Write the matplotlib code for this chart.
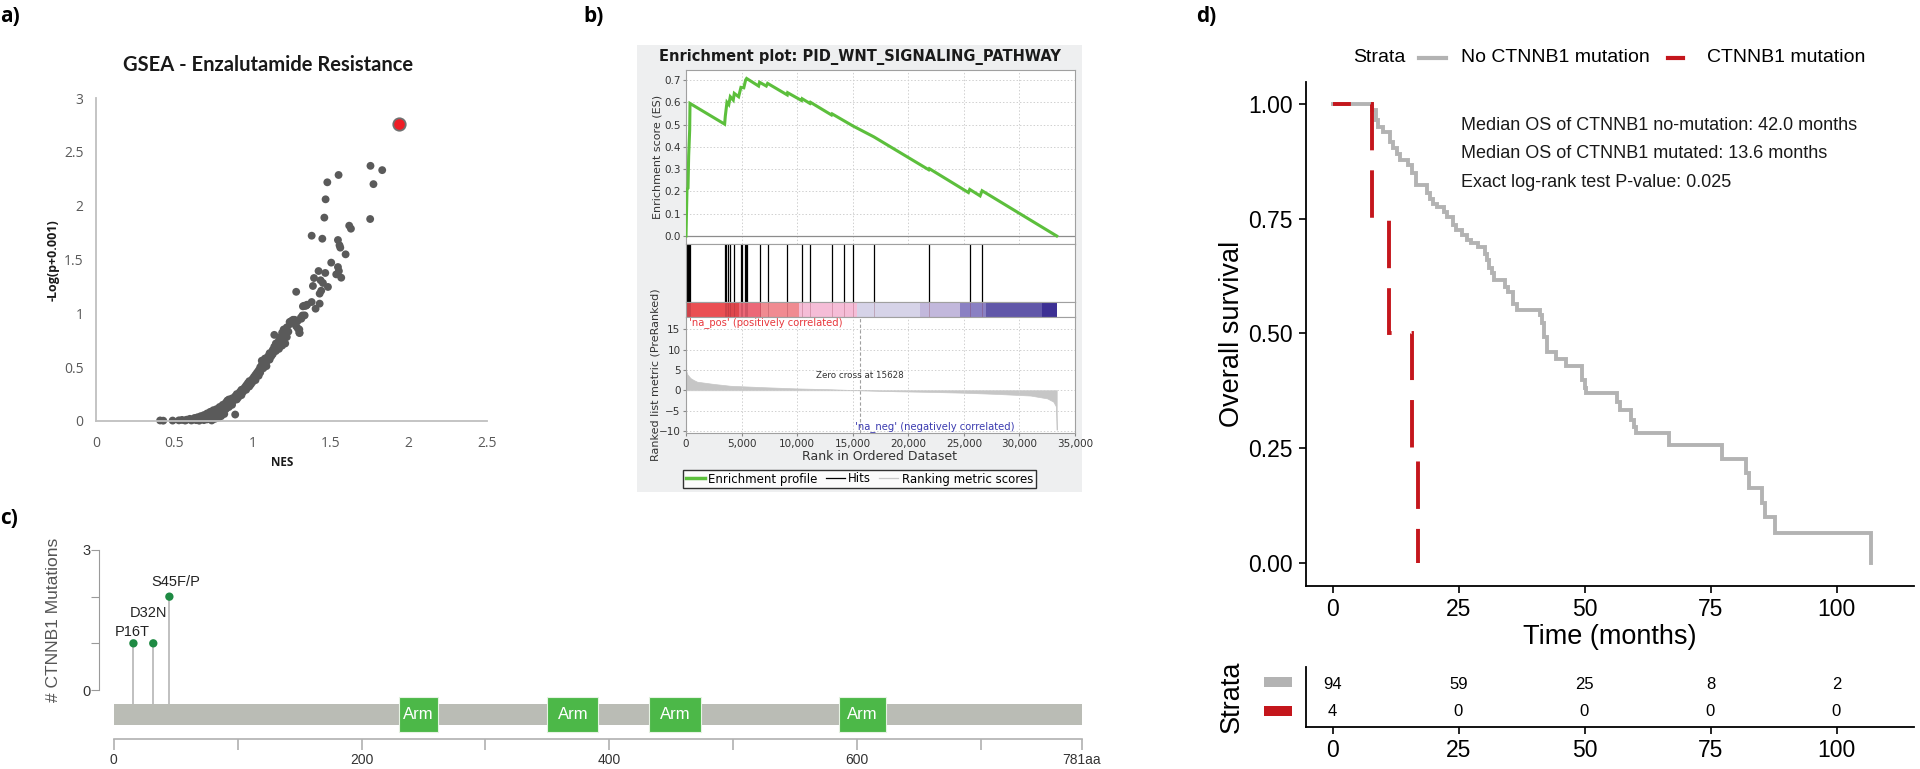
import matplotlib
matplotlib.use('Agg')
import matplotlib.pyplot as plt
from matplotlib.patches import Rectangle
from matplotlib.lines import Line2D

plt.rcParams['font.family'] = ['Liberation Sans', 'DejaVu Sans']

# ---------------- data ----------------
# panel a: GSEA scatter (NES vs -log(p+0.001))
nes = [0.41, 0.43, 0.49, 0.53, 0.55, 0.57, 0.58, 0.60, 0.61, 0.62, 0.63, 0.64, 0.65, 0.66, 0.66,
       0.67, 0.68, 0.69, 0.69, 0.70, 0.71, 0.71, 0.72, 0.73, 0.73, 0.74, 0.74, 0.75, 0.75, 0.76,
       0.76, 0.77, 0.77, 0.78, 0.78, 0.79, 0.79, 0.80, 0.80, 0.81, 0.81, 0.82, 0.82, 0.83, 0.83,
       0.84, 0.84, 0.85, 0.85, 0.86, 0.87, 0.87, 0.88, 0.89, 0.89, 0.90, 0.90, 0.91, 0.92, 0.93,
       0.93, 0.94, 0.95, 0.96, 0.96, 0.97, 0.98, 0.98, 0.99, 1.00, 1.00, 1.01, 1.02, 1.02, 1.03,
       1.04, 1.04, 1.05, 1.05, 1.06, 1.06, 1.07, 1.07, 1.08, 1.09, 1.09, 1.10, 1.11, 1.11, 1.12,
       1.13, 1.13, 1.14, 1.14, 1.15, 1.15, 1.16, 1.17, 1.17, 1.18, 1.18, 1.19, 1.19, 1.20, 1.20,
       1.21, 1.21, 1.22, 1.22, 1.23, 1.24, 1.25, 1.26, 1.27, 1.28, 1.29, 1.30, 1.30, 1.31, 1.32,
       1.33, 1.34, 1.35, 1.28,
       1.379, 1.447, 1.46, 1.468, 1.479, 1.551, 1.753, 1.755, 1.774, 1.83, 1.619, 1.63, 1.547,
       1.557, 1.562, 1.596, 1.504, 1.547, 1.553, 1.536, 1.568, 1.466, 1.423, 1.394, 1.436, 1.451,
       1.483, 1.387, 1.43, 1.44, 1.43, 1.379, 1.404, 1.323, 1.345, 1.334, 1.313, 1.291, 1.302,
       1.26, 1.238]
logp = [0.005, 0.003, 0.004, 0.006, 0.01, 0.004, 0.012, 0.02, 0.005, 0.015, 0.028, 0.008, 0.035, 0.018, 0.003,
        0.045, 0.025, 0.008, 0.055, 0.035, 0.07, 0.015, 0.05, 0.085, 0.03, 0.06, 0.005, 0.10, 0.04, 0.075,
        0.02, 0.11, 0.055, 0.09, 0.03, 0.13, 0.07, 0.115, 0.045, 0.15, 0.09, 0.13, 0.065, 0.17, 0.11,
        0.15, 0.19, 0.13, 0.20, 0.17, 0.21, 0.15, 0.19, 0.06, 0.23, 0.20, 0.25, 0.22, 0.27, 0.24,
        0.29, 0.27, 0.31, 0.29, 0.33, 0.35, 0.32, 0.37, 0.34, 0.39, 0.36, 0.41, 0.38, 0.43, 0.45,
        0.42, 0.47, 0.50, 0.45, 0.56, 0.52, 0.49, 0.54, 0.58, 0.55, 0.51, 0.60, 0.57, 0.63, 0.60,
        0.66, 0.62, 0.80, 0.69, 0.65, 0.72, 0.70, 0.75, 0.67, 0.73, 0.78, 0.70, 0.82, 0.76, 0.85,
        0.80, 0.72, 0.87, 0.78, 0.83, 0.90, 0.93, 0.94, 0.94, 0.88, 0.93, 0.85, 0.82, 0.96, 0.98,
        1.07, 1.07, 1.08, 1.20,
        1.721, 1.693, 1.889, 2.059, 2.217, 2.285, 1.876, 2.37, 2.20, 2.33, 1.814, 1.786, 1.681,
        1.632, 1.61, 1.548, 1.471, 1.43, 1.393, 1.362, 1.331, 1.375, 1.393, 1.328, 1.307, 1.282,
        1.245, 1.254, 1.183, 1.21, 1.09, 1.105, 1.043, 1.065, 1.074, 0.981, 0.95, 0.858, 0.817,
        0.935, 0.92]
top_nes = [1.936]
top_logp = [2.76]
a_xticks = [0, 0.5, 1, 1.5, 2, 2.5]
a_xticklabels = ['0', '0.5', '1', '1.5', '2', '2.5']
a_yticks = [0, 0.5, 1, 1.5, 2, 2.5, 3]
a_yticklabels = ['0', '0.5', '1', '1.5', '2', '2.5', '3']

# panel b: GSEA enrichment plot
es_rank = [0, 90, 180, 240, 330, 360, 3476, 3536, 3686, 3850, 3985, 4250, 4345, 4734, 4944, 5200,
           5364, 5454, 6532, 6622, 7222, 7342, 9110, 9150, 10398, 10450, 11147, 11200, 13095,
           13150, 15013, 16900, 21845, 21900, 25411, 25531, 26460, 26640, 33352]
es_val = [0.0, 0.21, 0.215, 0.36, 0.475, 0.595, 0.502, 0.538, 0.60, 0.59, 0.625, 0.61, 0.64,
          0.625, 0.667, 0.665, 0.70, 0.707, 0.673, 0.69, 0.673, 0.685, 0.633, 0.643, 0.608,
          0.616, 0.595, 0.60, 0.543, 0.548, 0.494, 0.445, 0.297, 0.302, 0.195, 0.209, 0.18,
          0.203, 0.0]
hit_ranks = [90, 180, 270, 330, 3536, 3626, 3746, 3985, 4345, 4944, 5034, 5274, 5364, 5454,
             6622, 7342, 9110, 10398, 11147, 13095, 14174, 15013, 16900, 21845, 25531, 26640]
metric_rank = [0, 100, 400, 700, 1000, 2500, 4000, 7000, 10000, 13000, 15628, 19000, 22000,
               25000, 28000, 31000, 32500, 33050, 33290, 33352]
metric_val = [5.0, 4.0, 3.0, 2.5, 2.1, 1.55, 1.1, 0.75, 0.45, 0.25, 0.0, -0.25, -0.4, -0.6,
              -0.9, -1.3, -2.0, -2.8, -4.0, -9.7]
band_edges = [0, 3700, 4800, 6740, 10130, 15370, 21070, 24660, 27000, 32070, 33352]
band_colors = ['#ea4f53', '#df474c', '#ec6878', '#f08b91', '#f5bdd7', '#d6d3e8', '#c2b8dc',
               '#8a80c3', '#6157a9', '#3d3094']
zero_cross = 15628
b_xticks = [0, 5000, 10000, 15000, 20000, 25000, 30000, 35000]
b_xticklabels = ['0', '5,000', '10,000', '15,000', '20,000', '25,000', '30,000', '35,000']

# panel c: CTNNB1 lollipop
mut_pos = [16, 32, 45]
mut_count = [1, 1, 2]
mut_label = ['P16T', 'D32N', 'S45F/P']
protein_len = 781
arm_start = [230, 350, 432, 585]
arm_end = [262, 391, 474, 623]

# panel d: Kaplan-Meier
nomut_t = [0, 7.9, 8.6, 9.1, 10.0, 11.5, 12.1, 12.7, 13.4, 15.0, 15.7, 16.6, 18.7, 19.3, 20.0,
           20.7, 22.1, 22.7, 24.0, 24.6, 25.6, 26.6, 27.5, 28.8, 30.2, 30.7, 31.1, 31.6, 32.0,
           34.3, 34.8, 35.9, 36.6, 41.1, 41.6, 42.0, 42.5, 44.3, 46.3, 49.5, 50.1, 50.2, 56.4,
           57.1, 59.3, 59.8, 60.3, 66.8, 77.3, 82.1, 82.6, 85.3, 85.8, 87.8, 106.9]
nomut_s = [1.0, 0.987, 0.965, 0.950, 0.939, 0.918, 0.905, 0.892, 0.879, 0.867, 0.849, 0.823,
           0.805, 0.794, 0.783, 0.776, 0.765, 0.754, 0.736, 0.725, 0.714, 0.703, 0.696, 0.689,
           0.674, 0.660, 0.642, 0.631, 0.616, 0.602, 0.591, 0.565, 0.551, 0.540, 0.522, 0.493,
           0.460, 0.445, 0.429, 0.398, 0.380, 0.369, 0.351, 0.333, 0.311, 0.296, 0.282, 0.257,
           0.225, 0.195, 0.162, 0.130, 0.100, 0.064, 0.0]
mut_t = [0, 7.8, 11.3, 15.8, 16.9]
mut_s = [1.0, 0.75, 0.5, 0.25, 0.0]
risk_times = [0, 25, 50, 75, 100]
risk_nomut = [94, 59, 25, 8, 2]
risk_mut = [4, 0, 0, 0, 0]
d_yticks = [0, 0.25, 0.5, 0.75, 1.0]
d_yticklabels = ['0.00', '0.25', '0.50', '0.75', '1.00']
annot_lines = ['Median OS of CTNNB1 no-mutation: 42.0 months',
               'Median OS of CTNNB1 mutated: 13.6 months',
               'Exact log-rank test P-value: 0.025']

# ---------------- figure ----------------
W, H = 1920, 769
fig = plt.figure(figsize=(W / 100, H / 100), dpi=100)


def pax(l, t, r, b):
    return fig.add_axes([l / W, 1 - b / H, (r - l) / W, (b - t) / H])


def ftext(x, y, s, **kw):
    return fig.text(x / W, 1 - y / H, s, **kw)


def frect(l, t, r, b, **kw):
    fig.patches.append(Rectangle((l / W, 1 - b / H), (r - l) / W, (b - t) / H,
                                 transform=fig.transFigure, figure=fig, **kw))


# panel labels
lab_kw = dict(fontsize=15, fontweight='bold', family='Open Sans', va='center', ha='left')
ftext(0, 17, 'a)', **lab_kw)
ftext(583, 17, 'b)', **lab_kw)
ftext(0, 519, 'c)', **lab_kw)
ftext(1196, 17, 'd)', **lab_kw)

# ---------- panel a ----------
axA = pax(96, 98, 487, 421)
axA.scatter(nes, logp, s=32, color='#5a5a5a', edgecolors='none', zorder=2, clip_on=False)
axA.scatter(top_nes, top_logp, s=80, color='#ee1c25', edgecolors='#707070', linewidths=1.3,
            zorder=3, clip_on=False)
axA.set_xlim(0, 2.5)
axA.set_ylim(0, 3)
for s in ['top', 'right']:
    axA.spines[s].set_visible(False)
for s in ['left', 'bottom']:
    axA.spines[s].set_color('#bfbfbf')
    axA.spines[s].set_linewidth(1.3)
axA.set_xticks(a_xticks)
axA.set_xticklabels(a_xticklabels)
axA.set_yticks(a_yticks)
axA.set_yticklabels(a_yticklabels)
axA.tick_params(length=0, labelsize=10, labelcolor='#595959')
axA.tick_params(axis='x', pad=11)
axA.tick_params(axis='y', pad=9)
for t in axA.get_xticklabels() + axA.get_yticklabels():
    t.set_family('Open Sans')
ftext(268, 65, 'GSEA - Enzalutamide Resistance', fontsize=14.5, fontweight='bold',
      family='Lato', ha='center', va='center', color='#1a1a1a')
ftext(282, 463, 'NES', fontsize=8.5, fontweight='bold', family='Open Sans', ha='center',
      va='center', color='#1a1a1a')
ftext(53, 260, '-Log(p+0.001)', fontsize=9, fontweight='bold', family='Open Sans',
      ha='center', va='center', rotation=90, color='#1a1a1a')

# ---------- panel b ----------
bfam = 'DejaVu Sans'
frect(637, 45, 1082, 492, facecolor='#eeeff0', edgecolor='none', zorder=-10)
ftext(860, 57, 'Enrichment plot: PID_WNT_SIGNALING_PATHWAY', fontsize=10.5,
      fontweight='bold', family=bfam, ha='center', va='center', color='#1a1a1a')

axES = pax(686, 70, 1075, 244)
axES.plot(es_rank, es_val, color='#5cbf3c', lw=2.2, solid_joinstyle='miter', zorder=3)
axES.axhline(0, color='#8c8c8c', lw=0.9, zorder=2)
axES.set_xlim(0, 35000)
axES.set_ylim(-0.036, 0.745)
axES.set_yticks([0, 0.1, 0.2, 0.3, 0.4, 0.5, 0.6, 0.7])
axES.set_yticklabels(['0.0', '0.1', '0.2', '0.3', '0.4', '0.5', '0.6', '0.7'])
axES.set_xticks(b_xticks)
axES.set_xticklabels([])
axES.grid(True, color='#d0d0d0', lw=0.7, ls=(0, (1.5, 2)))
axES.tick_params(axis='x', length=0)
axES.tick_params(axis='y', length=2, labelsize=7.5, labelcolor='#333333', color='#888888', pad=2)
for s in axES.spines.values():
    s.set_color('#a0a0a0')
    s.set_linewidth(0.8)
for t in axES.get_yticklabels():
    t.set_family(bfam)
ftext(657, 157, 'Enrichment score (ES)', fontsize=8, family=bfam, rotation=90,
      ha='center', va='center', color='#333333')

axHit = pax(686, 244, 1075, 302)
axHit.vlines(hit_ranks, 0, 1, color='black', lw=0.9)
axHit.set_xlim(0, 35000)
axHit.set_ylim(0, 1)
axHit.set_xticks([])
axHit.set_yticks([])
for s in axHit.spines.values():
    s.set_color('#a0a0a0')
    s.set_linewidth(0.8)

axBar = pax(686, 302, 1075, 317)
for i in range(len(band_colors)):
    axBar.axvspan(band_edges[i], band_edges[i + 1], color=band_colors[i], lw=0)
axBar.vlines(hit_ranks, 0, 1, color='#7a2030', lw=0.5, alpha=0.35)
axBar.set_xlim(0, 35000)
axBar.set_ylim(0, 1)
axBar.set_xticks([])
axBar.set_yticks([])
for s in axBar.spines.values():
    s.set_color('#a0a0a0')
    s.set_linewidth(0.8)

axM = pax(686, 317, 1075, 433)
axM.fill_between(metric_rank, 0, metric_val, color='#c6c6c6', lw=0.5, edgecolor='#c6c6c6')
axM.axvline(zero_cross, color='#a0a0a0', lw=0.8, ls=(0, (3, 2)))
axM.set_xlim(0, 35000)
axM.set_ylim(-10.5, 18)
axM.set_yticks([-10, -5, 0, 5, 10, 15])
axM.set_xticks(b_xticks)
axM.set_xticklabels(b_xticklabels)
axM.grid(True, color='#d0d0d0', lw=0.7, ls=(0, (1.5, 2)))
axM.tick_params(length=2, labelsize=7.5, labelcolor='#333333', color='#888888', pad=2)
for s in axM.spines.values():
    s.set_color('#a0a0a0')
    s.set_linewidth(0.8)
for t in axM.get_xticklabels() + axM.get_yticklabels():
    t.set_family(bfam)
axM.text(240, 16.6, "'na_pos' (positively correlated)", color='#e8383d', fontsize=7.2,
         family=bfam, ha='left', va='center')
axM.text(zero_cross, 3.6, 'Zero cross at ' + str(zero_cross), color='#333333', fontsize=6.3,
         family=bfam, ha='center', va='center')
axM.text(29550, -8.8, "'na_neg' (negatively correlated)", color='#3b3bb0', fontsize=7.2,
         family=bfam, ha='right', va='center')
ftext(655, 375, 'Ranked list metric (PreRanked)', fontsize=8, family=bfam, rotation=90,
      ha='center', va='center', color='#333333')
ftext(880, 457, 'Rank in Ordered Dataset', fontsize=9, family=bfam, ha='center', va='center',
      color='#333333')
hb = [Line2D([], [], color='#5cbf3c', lw=2.5), Line2D([], [], color='black', lw=0.9),
      Line2D([], [], color='#c8c8c8', lw=0.9)]
legB = fig.legend(hb, ['Enrichment profile', 'Hits', 'Ranking metric scores'], loc='center',
                  bbox_to_anchor=(859.5 / W, 1 - 479 / H), ncol=3, frameon=True, fancybox=False,
                  edgecolor='black', facecolor='white', handlelength=1.6, handletextpad=0.3,
                  columnspacing=0.7, borderpad=0.2, borderaxespad=0,
                  prop={'family': bfam, 'size': 8.5})
legB.get_frame().set_linewidth(1.0)

# ---------- panel c ----------
px_per_aa = 1.2395
px_per_cnt = 46.67
cL, cR, cT, cB = 99.3, 1090, 540, 765
axC = pax(cL, cT, cR, cB)
axC.set_xlim(-(113.6 - cL) / px_per_aa, (cR - 113.6) / px_per_aa)
axC.set_ylim(-(cB - 690) / px_per_cnt, (690 - cT) / px_per_cnt)
bar_top, bar_bot = -(704 - 690) / px_per_cnt, -(725 - 690) / px_per_cnt
dom_top, dom_bot = -(696.7 - 690) / px_per_cnt, -(732.3 - 690) / px_per_cnt
axC.add_patch(Rectangle((0, bar_bot), protein_len, bar_top - bar_bot, facecolor='#babcb5',
                        edgecolor='none', zorder=1))
for s0, s1 in zip(arm_start, arm_end):
    axC.add_patch(Rectangle((s0, dom_bot), s1 - s0, dom_top - dom_bot, facecolor='#4cb848',
                            edgecolor='#e6f3e3', lw=0.8, zorder=2))
    axC.text((s0 + s1) / 2, (dom_top + dom_bot) / 2, 'Arm', color='white', fontsize=12,
             ha='center', va='center', zorder=3)
axC.vlines(mut_pos, bar_top, mut_count, color='#b5b5b5', lw=1.2, zorder=1)
axC.scatter(mut_pos, mut_count, s=36, color='#1e8a43', edgecolors='none', zorder=4)
lab_off = [(-0.7, 8.4), (-3.4, 22), (4.3, 10.8)]
for x, y, s, o in zip(mut_pos, mut_count, mut_label, lab_off):
    axC.annotate(s, (x, y), xytext=o, textcoords='offset points', ha='center', va='center',
                 fontsize=10.5, color='#222222')
for s in ['top', 'right']:
    axC.spines[s].set_visible(False)
axC.spines['left'].set_bounds(0, 3)
axC.spines['left'].set_color('#9a9a9a')
axC.spines['bottom'].set_position(('data', -(739 - 690) / px_per_cnt))
axC.spines['bottom'].set_bounds(0, protein_len)
axC.spines['bottom'].set_color('#b0b0b0')
axC.spines['bottom'].set_linewidth(1.2)
axC.set_yticks([0, 1, 2, 3])
axC.set_yticklabels(['0', '', '', '3'])
axC.set_xticks([0, 200, 400, 600, protein_len])
axC.set_xticklabels(['0', '200', '400', '600', str(protein_len) + 'aa'])
axC.set_xticks([100, 300, 500, 700], minor=True)
axC.tick_params(axis='y', length=5.5, color='#9a9a9a', labelsize=10.5, labelcolor='#333333', pad=1)
axC.tick_params(axis='x', which='both', length=8, color='#b0b0b0', width=1.2, labelsize=10,
                labelcolor='#333333', pad=2)
ftext(53.6, 620, '# CTNNB1 Mutations', fontsize=12.5, rotation=90, ha='center', va='center',
      color='#555555')

# ---------- panel d ----------
dL, dR = 1305.6, 1914
x0px, pxm = 1332.5, 5.04
xlim_d = ((dL - x0px) / pxm, (dR - x0px) / pxm)
axD = pax(dL, 82, dR, 586)
axD.step(nomut_t, nomut_s, where='post', color='#b3b3b3', lw=2.8, solid_joinstyle='miter')
axD.step(mut_t, mut_s, where='post', color='#c4161c', lw=2.8, ls=(7.6, (12.2, 5.14)),
         dash_joinstyle='miter')
axD.set_xlim(*xlim_d)
axD.set_ylim(-0.0508, 1.048)
axD.set_yticks(d_yticks)
axD.set_yticklabels(d_yticklabels)
axD.set_xticks(risk_times)
for s in ['top', 'right']:
    axD.spines[s].set_visible(False)
for s in ['left', 'bottom']:
    axD.spines[s].set_linewidth(1.3)
axD.tick_params(length=5, width=1.2, labelsize=16.5, pad=4)
for i, s in enumerate(annot_lines):
    axD.text(25.5, [0.954, 0.892, 0.828][i], s, fontsize=13, ha='left', va='center',
             color='#1a1a1a')
ftext(1609.8, 637, 'Time (months)', fontsize=19.5, ha='center', va='center')
ftext(1232, 334, 'Overall survival', fontsize=19.5, ha='center', va='center', rotation=90)

# legend of panel d
ftext(1379, 58, 'Strata', fontsize=14, ha='center', va='center')
fig.lines.append(Line2D([1419 / W, 1446 / W], [1 - 58 / H, 1 - 58 / H], color='#b3b3b3', lw=3,
                        transform=fig.transFigure))
ftext(1461, 58, 'No CTNNB1 mutation', fontsize=14, ha='left', va='center')
fig.lines.append(Line2D([1668 / W, 1683 / W], [1 - 58 / H, 1 - 58 / H], color='#c4161c', lw=3,
                        transform=fig.transFigure))
ftext(1707, 58, 'CTNNB1 mutation', fontsize=14, ha='left', va='center')

# risk table
axR = pax(dL, 666.7, dR, 726.7)
axR.set_xlim(*xlim_d)
axR.set_ylim(0.438, 2.685)
for t, n in zip(risk_times, risk_nomut):
    axR.text(t, 2, str(n), ha='center', va='center', fontsize=12)
for t, n in zip(risk_times, risk_mut):
    axR.text(t, 1, str(n), ha='center', va='center', fontsize=12)
axR.set_xticks(risk_times)
axR.set_yticks([])
for s in ['top', 'right']:
    axR.spines[s].set_visible(False)
for s in ['left', 'bottom']:
    axR.spines[s].set_linewidth(1.3)
axR.tick_params(length=5, width=1.2, labelsize=16.5, pad=4)
frect(1264, 677, 1292, 687, facecolor='#b3b3b3', edgecolor='none')
frect(1264, 706, 1292, 716, facecolor='#c4161c', edgecolor='none')
ftext(1232, 697, 'Strata', fontsize=19.5, ha='center', va='center', rotation=90)

fig.savefig('out.png', dpi=100)
